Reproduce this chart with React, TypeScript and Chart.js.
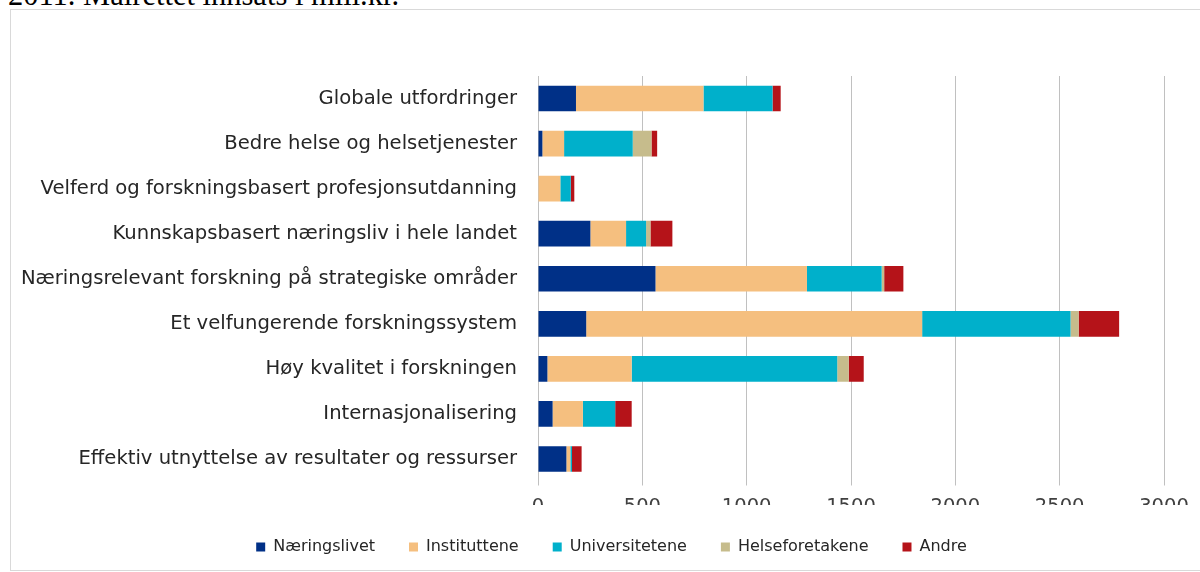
import React, { useEffect, useRef } from "react";
import { Chart, registerables } from "chart.js";

Chart.register(...registerables);

const categories = [
  "Globale utfordringer",
  "Bedre helse og helsetjenester",
  "Velferd og forskningsbasert profesjonsutdanning",
  "Kunnskapsbasert næringsliv i hele landet",
  "Næringsrelevant forskning på strategiske områder",
  "Et velfungerende forskningssystem",
  "Høy kvalitet i forskningen",
  "Internasjonalisering",
  "Effektiv utnyttelse av resultater og ressurser",
];

const naeringslivet = [182, 21, 0, 251, 563, 231, 45, 70, 136];
const instituttene = [611, 104, 107, 171, 726, 1610, 404, 145, 19];
const universitetene = [331, 329, 50, 96, 358, 711, 985, 155, 8];
const helseforetakene = [0, 90, 0, 21, 12, 39, 55, 0, 0];
const andre = [39, 27, 17, 105, 92, 194, 72, 79, 46];

const seriesNames = ["Næringslivet", "Instituttene", "Universitetene", "Helseforetakene", "Andre"];
const seriesColors = ["#003087", "#F5BF7F", "#00B0CB", "#C6BC8C", "#B51319"];

const xMin = 0;
const xMax = 3000;
const xStep = 500;

const legendShift = {
  id: "legendShift",
  afterLayout(chart: any) {
    const lg = chart.legend;
    if (!lg) return;
    const dx = (chart.width - chart.chartArea.right) / 2;
    lg.left += dx;
    lg.right += dx;
  },
};

export default function App() {
  const ref = useRef<HTMLCanvasElement | null>(null);

  useEffect(() => {
    if (!ref.current) return;
    const values = [naeringslivet, instituttene, universitetene, helseforetakene, andre];
    const chart = new Chart(ref.current, {
      type: "bar",
      data: {
        labels: categories,
        datasets: seriesNames.map((name, i) => ({
          label: name,
          data: values[i],
          backgroundColor: seriesColors[i],
          borderWidth: 0,
          barPercentage: 0.57,
          categoryPercentage: 1,
        })),
      },
      options: {
        indexAxis: "y",
        animation: false,
        responsive: false,
        maintainAspectRatio: false,
        layout: { padding: { top: 66, right: 48, bottom: 5, left: 0 } },
        plugins: {
          tooltip: { enabled: false },
          legend: {
            position: "bottom",
            labels: {
              boxWidth: 9,
              boxHeight: 9,
              padding: 34,
              color: "#262626",
              font: { family: "'DejaVu Sans'", size: 16 },
            },
          },
        },
        scales: {
          x: {
            stacked: true,
            min: xMin,
            max: xMax,
            ticks: {
              stepSize: xStep,
              color: "#404040",
              padding: 10,
              font: { family: "'DejaVu Sans'", size: 19.5 },
              callback: (v: any) => String(v),
            },
            grid: {
              color: "#c0c0c0",
              lineWidth: 1,
              drawTicks: true,
              tickLength: 4,
              tickColor: "#c0c0c0",
            },
            border: { display: false },
            afterFit: (s: any) => {
              s.height = 23.5;
            },
          },
          y: {
            stacked: true,
            ticks: {
              color: "#262626",
              padding: 21,
              font: { family: "'DejaVu Sans'", size: 19.6 },
            },
            grid: { display: false, drawTicks: false },
            border: { display: false },
            afterFit: (s: any) => {
              s.width = 527;
            },
          },
        },
      },
      plugins: [legendShift],
    });
    return () => chart.destroy();
  }, []);

  return (
    <div
      style={{
        position: "fixed",
        left: 0,
        top: 0,
        width: 1200,
        height: 572,
        overflow: "hidden",
        background: "#fff",
      }}
    >
      <div
        style={{
          position: "absolute",
          left: 8,
          top: -20,
          fontFamily: "'Liberation Serif', 'Times New Roman', serif",
          fontSize: 30.5,
          lineHeight: "30px",
          whiteSpace: "nowrap",
          color: "#000",
        }}
      >
        2011. Målrettet innsats i mill.kr.
      </div>
      <div
        style={{
          position: "absolute",
          left: 10,
          top: 9,
          width: 1203,
          height: 562,
          border: "1px solid #d9d9d9",
          boxSizing: "border-box",
          background: "#fff",
        }}
      >
        <canvas ref={ref} width={1201} height={560} style={{ display: "block", width: 1201, height: 560 }} />
      </div>
    </div>
  );
}
